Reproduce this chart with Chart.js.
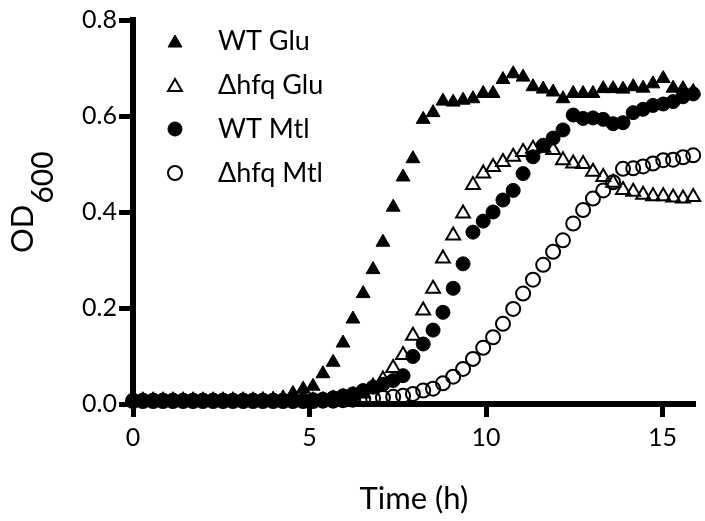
<!DOCTYPE html>
<html>
<head>
<meta charset="utf-8">
<script src="https://cdn.jsdelivr.net/npm/chart.js@4.4.1/dist/chart.umd.min.js"></script>
<style>
  html, body { margin: 0; padding: 0; background: #fff; overflow: hidden; }
  #growthChart { display: block; }
</style>
</head>
<body>
<canvas id="growthChart" width="705" height="521"></canvas>
<script>
// sampling every 17 min (h)
const timeH = [0, 0.28, 0.57, 0.85, 1.13, 1.42, 1.7, 1.98, 2.27, 2.55, 2.83, 3.12, 3.4, 3.68, 3.97, 4.25, 4.53, 4.82, 5.1,
  5.38, 5.67, 5.95, 6.23, 6.52, 6.8, 7.08, 7.37, 7.65, 7.93, 8.22, 8.5, 8.78, 9.07, 9.35, 9.63, 9.92, 10.2, 10.48, 10.77,
  11.05, 11.33, 11.62, 11.9, 12.18, 12.47, 12.75, 13.03, 13.32, 13.6, 13.88, 14.17, 14.45, 14.73, 15.02, 15.3, 15.58, 15.87];

const wtGlu = [0.008, 0.008, 0.008, 0.008, 0.008, 0.008, 0.008, 0.008, 0.008, 0.008, 0.008, 0.008, 0.008, 0.009, 0.010, 0.013, 0.022, 0.031, 0.037,
  0.063, 0.087, 0.127, 0.177, 0.230, 0.280, 0.337, 0.410, 0.473, 0.511, 0.593, 0.607, 0.631, 0.629, 0.633, 0.636, 0.647, 0.647, 0.676, 0.688,
  0.681, 0.661, 0.656, 0.650, 0.636, 0.647, 0.647, 0.647, 0.657, 0.657, 0.656, 0.661, 0.658, 0.667, 0.678, 0.658, 0.657, 0.651];

const hfqGlu = [0.006, 0.006, 0.006, 0.006, 0.006, 0.006, 0.006, 0.006, 0.006, 0.006, 0.006, 0.006, 0.006, 0.006, 0.006, 0.006, 0.006, 0.006, 0.006,
  0.007, 0.010, 0.013, 0.017, 0.022, 0.036, 0.051, 0.075, 0.102, 0.142, 0.195, 0.240, 0.303, 0.351, 0.397, 0.456, 0.480, 0.494, 0.504, 0.515,
  0.525, 0.532, 0.534, 0.529, 0.508, 0.501, 0.500, 0.484, 0.473, 0.461, 0.446, 0.442, 0.436, 0.433, 0.433, 0.430, 0.428, 0.431];

const wtMtl = [0.008, 0.008, 0.008, 0.008, 0.008, 0.008, 0.008, 0.008, 0.008, 0.008, 0.008, 0.008, 0.008, 0.008, 0.008, 0.008, 0.008, 0.008, 0.009,
  0.010, 0.013, 0.017, 0.021, 0.028, 0.035, 0.041, 0.049, 0.059, 0.099, 0.125, 0.154, 0.191, 0.241, 0.292, 0.358, 0.381, 0.400, 0.425, 0.445,
  0.480, 0.515, 0.539, 0.554, 0.571, 0.602, 0.595, 0.596, 0.593, 0.584, 0.586, 0.607, 0.614, 0.622, 0.625, 0.630, 0.640, 0.646];

const hfqMtl = [0.006, 0.006, 0.006, 0.006, 0.006, 0.006, 0.006, 0.006, 0.006, 0.006, 0.006, 0.006, 0.006, 0.006, 0.006, 0.006, 0.006, 0.006, 0.006,
  0.007, 0.007, 0.008, 0.009, 0.010, 0.012, 0.013, 0.015, 0.017, 0.021, 0.028, 0.032, 0.043, 0.057, 0.073, 0.094, 0.117, 0.139, 0.167, 0.198,
  0.230, 0.259, 0.290, 0.317, 0.341, 0.376, 0.404, 0.428, 0.445, 0.462, 0.490, 0.491, 0.495, 0.501, 0.508, 0.509, 0.514, 0.518];

const seriesNames = ['WT Glu', 'Δhfq Glu', 'WT Mtl', 'Δhfq Mtl'];
const xTicks = [0, 5, 10, 15];
const yTicks = [0, 0.2, 0.4, 0.6, 0.8];

const FONT = 'Lato, "Open Sans", sans-serif';

function toPoints(values) {
  return values.map((v, i) => ({ x: timeH[i], y: v }));
}

// open symbols are hollow (no fill), so overlapping outlines stay visible
function makeSeries(label, values, style, filled, order) {
  const r = style === 'triangle' ? 8 : 7;
  return {
    label: label,
    data: toPoints(values),
    showLine: false,
    pointStyle: style,
    pointRadius: r,
    pointHoverRadius: r,
    pointBackgroundColor: filled ? '#000' : 'rgba(0,0,0,0)',
    pointBorderColor: '#000',
    pointBorderWidth: filled ? 1 : 2,
    clip: false,
    order: order
  };
}

// legend + axis titles drawn on canvas (OD needs a subscript)
const annotations = {
  id: 'annotations',
  afterDraw(chart) {
    const ctx = chart.ctx;
    const area = chart.chartArea;
    ctx.save();
    ctx.fillStyle = '#000';

    // legend
    chart.data.datasets.forEach((ds, i) => {
      const y = 41 + i * 44;
      ctx.save();
      ctx.fillStyle = ds.pointBackgroundColor;
      ctx.strokeStyle = ds.pointBorderColor;
      ctx.lineWidth = ds.pointBorderWidth;
      Chart.helpers.drawPoint(ctx, {
        pointStyle: ds.pointStyle,
        radius: ds.pointRadius,
        borderWidth: ds.pointBorderWidth,
        rotation: 0
      }, 175, y + (ds.pointStyle === 'triangle' ? 2 : 0));
      ctx.restore();
      ctx.font = '27px ' + FONT;
      ctx.textAlign = 'left';
      ctx.textBaseline = 'middle';
      ctx.fillStyle = '#000';
      ctx.fillText(ds.label, 218, y);
    });

    // x title
    ctx.font = '31px ' + FONT;
    ctx.textAlign = 'center';
    ctx.textBaseline = 'alphabetic';
    ctx.fillText('Time (h)', (area.left + area.right) / 2, 509);

    // y title, rotated, with subscript
    ctx.translate(33, 253);
    ctx.rotate(-Math.PI / 2);
    ctx.textAlign = 'left';
    ctx.font = '31px ' + FONT;
    ctx.fillText('OD', 0, 0);
    const w = ctx.measureText('OD').width;
    ctx.font = '30px ' + FONT;
    ctx.fillText('600', w + 1, 20);
    ctx.restore();
  }
};

const axisCommon = {
  type: 'linear',
  border: { display: true, color: '#000', width: 6 },
  grid: { display: true, drawOnChartArea: false, drawTicks: true, color: '#000', tickColor: '#000', tickWidth: 5 },
  ticks: { color: '#000', font: { family: FONT, size: 25 } }
};

new Chart(document.getElementById('growthChart'), {
  type: 'scatter',
  data: {
    datasets: [
      makeSeries(seriesNames[0], wtGlu, 'triangle', true, 4),
      makeSeries(seriesNames[1], hfqGlu, 'triangle', false, 3),
      makeSeries(seriesNames[2], wtMtl, 'circle', true, 2),
      makeSeries(seriesNames[3], hfqMtl, 'circle', false, 1)
    ]
  },
  options: {
    responsive: false,
    animation: false,
    layout: { padding: { top: 20, right: 0, left: 0, bottom: 0 } },
    plugins: { legend: { display: false }, tooltip: { enabled: false } },
    scales: {
      x: {
        ...axisCommon,
        min: 0,
        max: 15.92,
        grid: { ...axisCommon.grid, tickLength: 13 },
        ticks: { ...axisCommon.ticks, padding: 6, maxRotation: 0, callback: v => v },
        afterBuildTicks: scale => { scale.ticks = xTicks.map(v => ({ value: v })); },
        afterFit: scale => { scale.height = 117; }
      },
      y: {
        ...axisCommon,
        min: 0,
        max: 0.8,
        grid: { ...axisCommon.grid, tickLength: 14 },
        ticks: { ...axisCommon.ticks, padding: 2, callback: v => v.toFixed(1) },
        afterBuildTicks: scale => { scale.ticks = yTicks.map(v => ({ value: v })); },
        afterFit: scale => { scale.width = 133; }
      }
    }
  },
  plugins: [annotations]
});
</script>
</body>
</html>
